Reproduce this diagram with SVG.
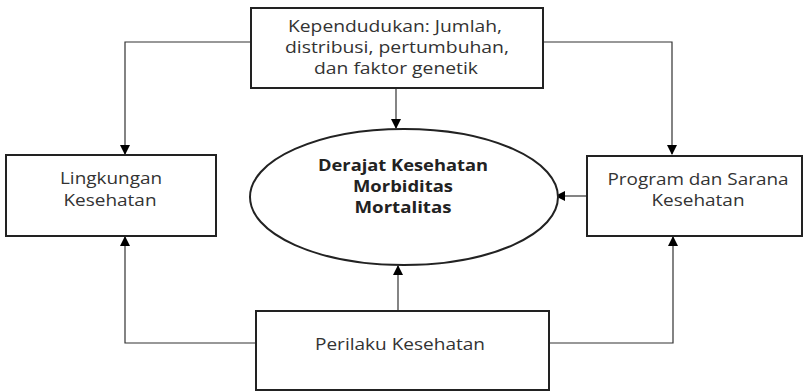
<svg xmlns="http://www.w3.org/2000/svg" width="805" height="391" viewBox="0 0 805 391">
<defs>
<marker id="ah" markerWidth="10" markerHeight="10" refX="9" refY="5" orient="auto" markerUnits="userSpaceOnUse">
<path d="M0,0 L10,5 L0,10 z" fill="#000"/>
</marker>
<style>
.box{fill:#fff;stroke:#222;stroke-width:2}
.con{fill:none;stroke:#333;stroke-width:1.2;marker-end:url(#ah)}
text{font-family:"Open Sans","Liberation Sans",sans-serif;font-size:16px;fill:#333;text-anchor:middle}
.b{font-weight:bold;fill:#222}
</style>
</defs>
<rect width="805" height="391" fill="#fff"/>
<g id="connectors">
<path class="con" d="M251,42 H125 V154"/>
<path class="con" d="M543,42 H672 V154"/>
<path class="con" d="M396,88 V128"/>
<path class="con" d="M587,196 H556"/>
<path class="con" d="M256,343 H125 V237"/>
<path class="con" d="M549,343 H673 V237"/>
<path class="con" d="M398,311 V266"/>
</g>
<g id="kependudukan">
<rect class="box" x="251" y="8" width="292" height="80"/>
<text x="395" y="32" textLength="214" lengthAdjust="spacingAndGlyphs">Kependudukan: Jumlah,</text>
<text x="397" y="53" textLength="224" lengthAdjust="spacingAndGlyphs">distribusi, pertumbuhan,</text>
<text x="396" y="74" textLength="164" lengthAdjust="spacingAndGlyphs">dan faktor genetik</text>
</g>
<g id="lingkungan">
<rect class="box" x="6" y="155" width="210" height="81"/>
<text x="111" y="184" textLength="102" lengthAdjust="spacingAndGlyphs">Lingkungan</text>
<text x="110" y="206" textLength="93" lengthAdjust="spacingAndGlyphs">Kesehatan</text>
</g>
<g id="program">
<rect class="box" x="587" y="156" width="215" height="80"/>
<text x="698" y="185" textLength="181" lengthAdjust="spacingAndGlyphs">Program dan Sarana</text>
<text x="698" y="206" textLength="93" lengthAdjust="spacingAndGlyphs">Kesehatan</text>
</g>
<g id="derajat">
<ellipse class="box" cx="404" cy="197" rx="154" ry="68" stroke-width="1.6"/>
<text class="b" x="403" y="171" textLength="170" lengthAdjust="spacingAndGlyphs">Derajat Kesehatan</text>
<text class="b" x="403" y="192" textLength="100" lengthAdjust="spacingAndGlyphs">Morbiditas</text>
<text class="b" x="403" y="213" textLength="97" lengthAdjust="spacingAndGlyphs">Mortalitas</text>
</g>
<g id="perilaku">
<rect class="box" x="256" y="311" width="293" height="79"/>
<text x="400" y="350" textLength="170" lengthAdjust="spacingAndGlyphs">Perilaku Kesehatan</text>
</g>
</svg>
